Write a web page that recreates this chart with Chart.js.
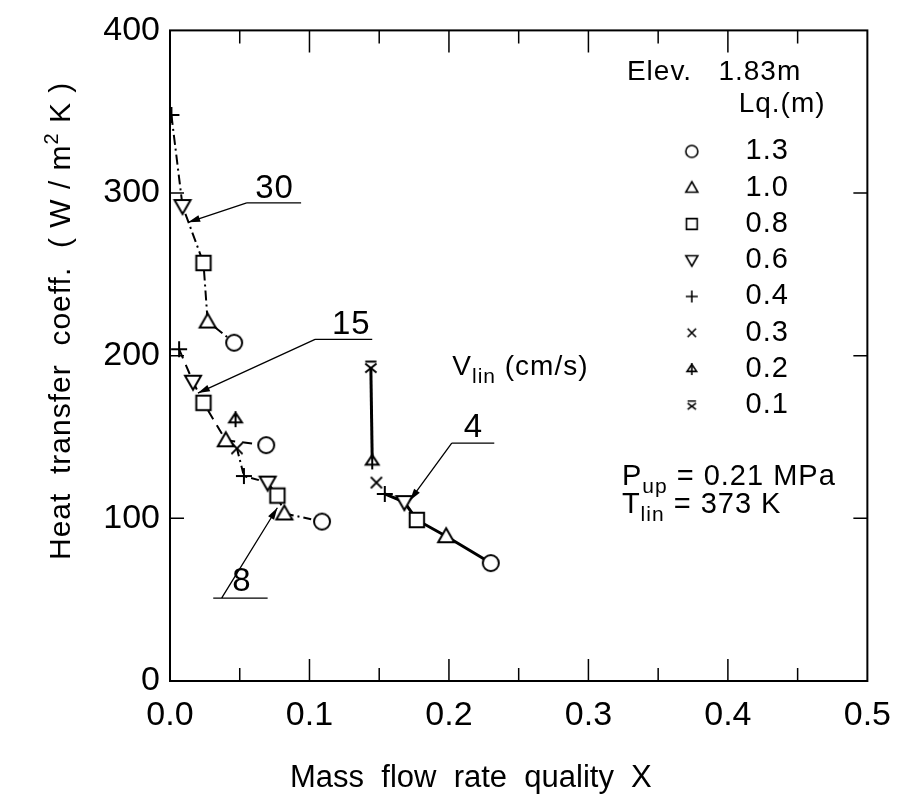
<!DOCTYPE html>
<html>
<head>
<meta charset="utf-8">
<script src="https://cdn.jsdelivr.net/npm/chart.js@4.4.0/dist/chart.umd.min.js"></script>
<style>
  html, body { margin: 0; padding: 0; background: #fff; }
</style>
</head>
<body>
<canvas id="htcChart" width="905" height="801"></canvas>
<script>
// Lq (m) legend entries, in legend order
const lqLevels = ['1.3', '1.0', '0.8', '0.6', '0.4', '0.3', '0.2', '0.1'];
const lqShapes = ['circle', 'triangle', 'square', 'triangleDown', 'plus', 'cross', 'stemTri', 'barCross'];

// V_lin = 30 cm/s
const lq30 = ['0.4', '0.6', '0.8', '1.0', '1.3'];
const x30 = [0.001, 0.009, 0.024, 0.027, 0.046];
const y30 = [348, 292, 257, 221, 208];

// V_lin = 15 cm/s
const lq15 = ['0.4', '0.6', '0.8', '1.0', '1.3'];
const x15 = [0.0065, 0.0165, 0.024, 0.040, 0.069];
const y15 = [204, 184, 171, 148, 145];

// V_lin = 8 cm/s
const lq8 = ['0.2', '0.3', '0.4', '0.6', '0.8', '1.0', '1.3'];
const x8 = [0.047, 0.048, 0.053, 0.070, 0.077, 0.082, 0.109];
const y8 = [161, 143, 126, 122, 114, 103, 98];

// V_lin = 4 cm/s
const lq4 = ['0.1', '0.2', '0.3', '0.4', '0.6', '0.8', '1.0', '1.3'];
const x4 = [0.144, 0.145, 0.148, 0.154, 0.168, 0.177, 0.198, 0.230];
const y4 = [193, 135, 122, 115, 110, 99, 89, 72.5];

// velocity labels: text, label x/y, underline x0/x1/y, leader start x/y, arrow tip x/y (data units)
const velLabels = [
    { text: '30', lx: 0.075, ly: 296, u0: 0.055, u1: 0.094, uy: 294, sx: 0.055, sy: 294, tx: 0.013, ty: 282 },
    { text: '15', lx: 0.130, ly: 212, u0: 0.104, u1: 0.145, uy: 210, sx: 0.104, sy: 210, tx: 0.020, ty: 177 },
    { text: '4',  lx: 0.2175, ly: 149, u0: 0.202, u1: 0.2325, uy: 146.3, sx: 0.202, sy: 146.3, tx: 0.172, ty: 111 },
    { text: '8',  lx: 0.0515, ly: 54, u0: 0.031, u1: 0.070, uy: 51, sx: 0.037, sy: 51, tx: 0.077, ty: 106.5 }
];

const xTicks = [0, 0.1, 0.2, 0.3, 0.4, 0.5];
const yTicks = [0, 100, 200, 300, 400];

const FONT = '"Liberation Sans", Arial, sans-serif';

// build a small canvas for every marker shape
function makeMarker(shape, s, lw) {
    const c = document.createElement('canvas');
    const n = Math.ceil(s + lw * 2 + 2);
    c.width = n; c.height = n;
    const g = c.getContext('2d');
    const m = n / 2, h = s / 2;
    g.lineWidth = lw;
    g.strokeStyle = '#000';
    g.fillStyle = '#fff';
    g.lineJoin = 'miter';
    g.beginPath();
    if (shape === 'circle') {
        g.arc(m, m, h, 0, Math.PI * 2);
        g.fill(); g.stroke();
    } else if (shape === 'triangle') {
        g.moveTo(m, m - h); g.lineTo(m + h, m + h * 0.75); g.lineTo(m - h, m + h * 0.75); g.closePath();
        g.fill(); g.stroke();
    } else if (shape === 'triangleDown') {
        g.moveTo(m, m + h); g.lineTo(m + h, m - h * 0.75); g.lineTo(m - h, m - h * 0.75); g.closePath();
        g.fill(); g.stroke();
    } else if (shape === 'square') {
        const q = h * 0.9;
        g.rect(m - q, m - q, q * 2, q * 2);
        g.fill(); g.stroke();
    } else if (shape === 'plus') {
        g.moveTo(m - h, m); g.lineTo(m + h, m); g.moveTo(m, m - h); g.lineTo(m, m + h);
        g.stroke();
    } else if (shape === 'cross') {
        const q = h * 0.7;
        g.moveTo(m - q, m - q); g.lineTo(m + q, m + q); g.moveTo(m + q, m - q); g.lineTo(m - q, m + q);
        g.stroke();
    } else if (shape === 'stemTri') {
        const q = h * 0.8;
        g.moveTo(m, m - q); g.lineTo(m + q, m + q * 0.5); g.lineTo(m - q, m + q * 0.5); g.closePath();
        g.fill(); g.stroke();
        g.beginPath(); g.moveTo(m, m - h); g.lineTo(m, m + h); g.stroke();
    } else if (shape === 'barCross') {
        const q = h * 0.7;
        g.moveTo(m - q, m - q + 2); g.lineTo(m + q, m + q); g.moveTo(m + q, m - q + 2); g.lineTo(m - q, m + q);
        g.moveTo(m - q, m - q); g.lineTo(m + q, m - q);
        g.stroke();
    }
    return c;
}

const plotMarkers = {};
const legendMarkers = {};
lqLevels.forEach((lq, i) => {
    plotMarkers[lq] = makeMarker(lqShapes[i], 16, 2);
    legendMarkers[lq] = makeMarker(lqShapes[i], 12, 1.6);
});

function curve(label, xs, ys, lqs, dash, width, noLine) {
    return {
        label: label,
        data: xs.map((x, i) => ({ x: x, y: ys[i] })),
        showLine: true,
        borderColor: '#000',
        borderWidth: width,
        borderDash: dash,
        pointStyle: lqs.map(l => plotMarkers[l]),
        pointRadius: 7,
        tension: 0,
        segment: {
            borderColor: ctx => noLine.includes(ctx.p0DataIndex) ? 'rgba(0,0,0,0)' : undefined
        }
    };
}

// draw text with sub/superscripts: parts = [[text, size, dy], ...]
function richText(ctx, parts, x, y) {
    let cx = x;
    parts.forEach(p => {
        ctx.font = p[1] + 'px ' + FONT;
        ctx.fillText(p[0], cx, y + (p[2] || 0));
        cx += ctx.measureText(p[0]).width;
    });
}

const framePlugin = {
    id: 'frameTicks',
    afterDraw(chart) {
        const { ctx, chartArea: a, scales: { x, y } } = chart;
        ctx.save();
        ctx.strokeStyle = '#000';
        ctx.lineWidth = 2;
        ctx.strokeRect(a.left, a.top, a.right - a.left, a.bottom - a.top);
        ctx.lineWidth = 1.5;
        ctx.beginPath();
        for (let k = 1; k < 10; k++) {
            const px = x.getPixelForValue(k * 0.05);
            const len = k % 2 === 0 ? 22 : 13;
            ctx.moveTo(px, a.bottom); ctx.lineTo(px, a.bottom - len);
            ctx.moveTo(px, a.top); ctx.lineTo(px, a.top + len);
        }
        for (let k = 1; k < 4; k++) {
            const py = y.getPixelForValue(k * 100);
            ctx.moveTo(a.left, py); ctx.lineTo(a.left + 14, py);
            ctx.moveTo(a.right, py); ctx.lineTo(a.right - 14, py);
        }
        ctx.stroke();
        ctx.restore();
    }
};

const textPlugin = {
    id: 'texts',
    afterDraw(chart) {
        const { ctx, scales: { x, y } } = chart;
        const X = v => x.getPixelForValue(v);
        const Y = v => y.getPixelForValue(v);
        ctx.save();
        ctx.fillStyle = '#000';
        ctx.strokeStyle = '#000';
        ctx.textBaseline = 'alphabetic';
        ctx.textAlign = 'left';

        // axis titles
        ctx.letterSpacing = '0px';
        ctx.font = '31px ' + FONT;
        ctx.fillText('Mass  flow  rate  quality  X', 290, 787);
        ctx.save();
        ctx.letterSpacing = '1px';
        ctx.translate(70, 560);
        ctx.rotate(-Math.PI / 2);
        richText(ctx, [['Heat  transfer  coeff.  ( W / m', 30], ['2', 20, -12], [' K )', 30]], 0, 0);
        ctx.restore();

        ctx.letterSpacing = '1px';
        // upper right notes
        richText(ctx, [['Elev.   1.83m', 28]], X(0.3276), Y(369.5));
        richText(ctx, [['Lq.(m)', 28]], X(0.4077), Y(350));

        // legend
        lqLevels.forEach((lq, i) => {
            const py = Y(325.6 - i * 22.3);
            const m = legendMarkers[lq];
            ctx.drawImage(m, X(0.3741) - m.width / 2, py - m.height / 2);
            ctx.font = '29px ' + FONT;
            ctx.textBaseline = 'middle';
            ctx.fillText(lq, X(0.4127), py);
            ctx.textBaseline = 'alphabetic';
        });

        richText(ctx, [['V', 28], ['lin', 21, 8], [' (cm/s)', 28]], X(0.2024), Y(188.4));
        richText(ctx, [['P', 29], ['up', 21, 8], [' = 0.21 MPa', 29]], X(0.324), Y(120.7));
        richText(ctx, [['T', 29], ['lin', 21, 8], [' = 373 K', 29]], X(0.324), Y(103));

        // velocity labels with leaders
        ctx.lineWidth = 1.3;
        velLabels.forEach(v => {
            ctx.beginPath();
            ctx.moveTo(X(v.u0), Y(v.uy)); ctx.lineTo(X(v.u1), Y(v.uy));
            ctx.moveTo(X(v.sx), Y(v.sy)); ctx.lineTo(X(v.tx), Y(v.ty));
            ctx.stroke();
            const ang = Math.atan2(Y(v.ty) - Y(v.sy), X(v.tx) - X(v.sx));
            ctx.beginPath();
            ctx.moveTo(X(v.tx), Y(v.ty));
            ctx.lineTo(X(v.tx) - 12 * Math.cos(ang) + 3.5 * Math.sin(ang), Y(v.ty) - 12 * Math.sin(ang) - 3.5 * Math.cos(ang));
            ctx.lineTo(X(v.tx) - 12 * Math.cos(ang) - 3.5 * Math.sin(ang), Y(v.ty) - 12 * Math.sin(ang) + 3.5 * Math.cos(ang));
            ctx.closePath();
            ctx.fill();
            ctx.font = '33px ' + FONT;
            ctx.textAlign = 'center';
            ctx.fillText(v.text, X(v.lx), Y(v.ly) - 2);
            ctx.textAlign = 'left';
        });
        ctx.restore();
    }
};

new Chart(document.getElementById('htcChart'), {
    type: 'scatter',
    data: {
        datasets: [
            curve('30', x30, y30, lq30, [10, 4, 2, 4], 2, []),
            curve('15', x15, y15, lq15, [10, 7], 2, []),
            curve('8', x8, y8, lq8, [8, 4, 2, 4], 2, [0]),
            curve('4', x4, y4, lq4, [], 3, [1, 2])
        ]
    },
    options: {
        responsive: false,
        devicePixelRatio: 1,
        animation: false,
        layout: { padding: { top: 25, right: 36, left: 0, bottom: 0 } },
        plugins: {
            legend: { display: false },
            tooltip: { enabled: false }
        },
        scales: {
            x: {
                type: 'linear',
                min: 0,
                max: 0.5,
                afterFit: s => { s.height = 120; },
                afterBuildTicks: s => { s.ticks = xTicks.map(v => ({ value: v })); },
                grid: { display: false, drawTicks: false },
                border: { display: false },
                ticks: {
                    padding: 14,
                    color: '#000',
                    font: { family: FONT, size: 34 },
                    callback: v => v.toFixed(1)
                }
            },
            y: {
                type: 'linear',
                min: 0,
                max: 400,
                afterFit: s => { s.width = 170; },
                afterBuildTicks: s => { s.ticks = yTicks.map(v => ({ value: v })); },
                grid: { display: false, drawTicks: false },
                border: { display: false },
                ticks: {
                    padding: 10,
                    color: '#000',
                    font: { family: FONT, size: 34 }
                }
            }
        }
    },
    plugins: [framePlugin, textPlugin]
});
</script>
</body>
</html>
